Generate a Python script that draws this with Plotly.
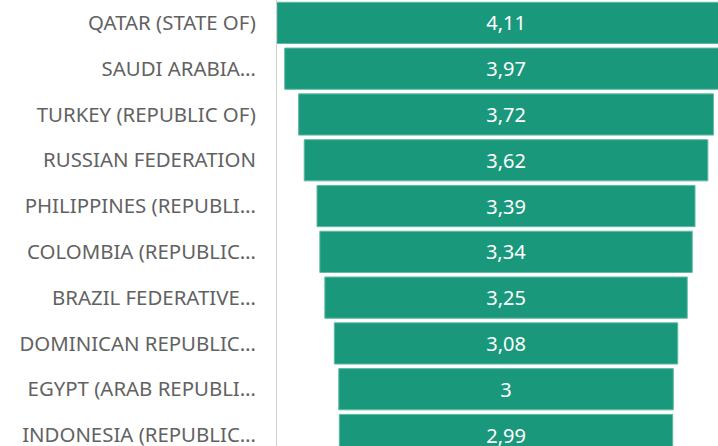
import plotly.graph_objects as go

countries = [
    "QATAR (STATE OF)",
    "SAUDI ARABIA…",
    "TURKEY (REPUBLIC OF)",
    "RUSSIAN FEDERATION",
    "PHILIPPINES (REPUBLI…",
    "COLOMBIA (REPUBLIC…",
    "BRAZIL FEDERATIVE…",
    "DOMINICAN REPUBLIC…",
    "EGYPT (ARAB REPUBLI…",
    "INDONESIA (REPUBLIC…",
]
values = [4.11, 3.97, 3.72, 3.62, 3.39, 3.34, 3.25, 3.08, 3.00, 2.99]

fig = go.Figure(go.Funnel(
    y=countries,
    x=values,
    marker=dict(color="#1A987B", line=dict(width=1, color="#5FB9A3")),
    connector=dict(visible=False),
    texttemplate="%{x:.2~f}",
    textposition="inside",
    insidetextanchor="middle",
    textfont=dict(color="white", size=20, family="Noto Sans"),
    hoverinfo="skip",
))

fig.update_layout(
    width=718, height=446,
    margin=dict(l=277, r=0, t=0, b=0, autoexpand=False),
    paper_bgcolor="white",
    plot_bgcolor="white",
    separators=", ",
    showlegend=False,
    funnelgap=0.1,
    xaxis=dict(visible=False, range=[-2.054, 1.901]),
    yaxis=dict(
        range=[9.24, -0.5],
        automargin=False,
        showline=True, linecolor="#D0D0D0", linewidth=1,
        tickfont=dict(family="Noto Sans", size=20.4, color="#626262"),
        ticklabelstandoff=16,
        showgrid=False,
    ),
)

fig.write_html("out.html", config={"displayModeBar": False})
with open("out.html", "r", encoding="utf-8") as f:
    html = f.read()
html = html.replace("<body>", '<body style="margin:0;padding:0;overflow:hidden">', 1)
with open("out.html", "w", encoding="utf-8") as f:
    f.write(html)
